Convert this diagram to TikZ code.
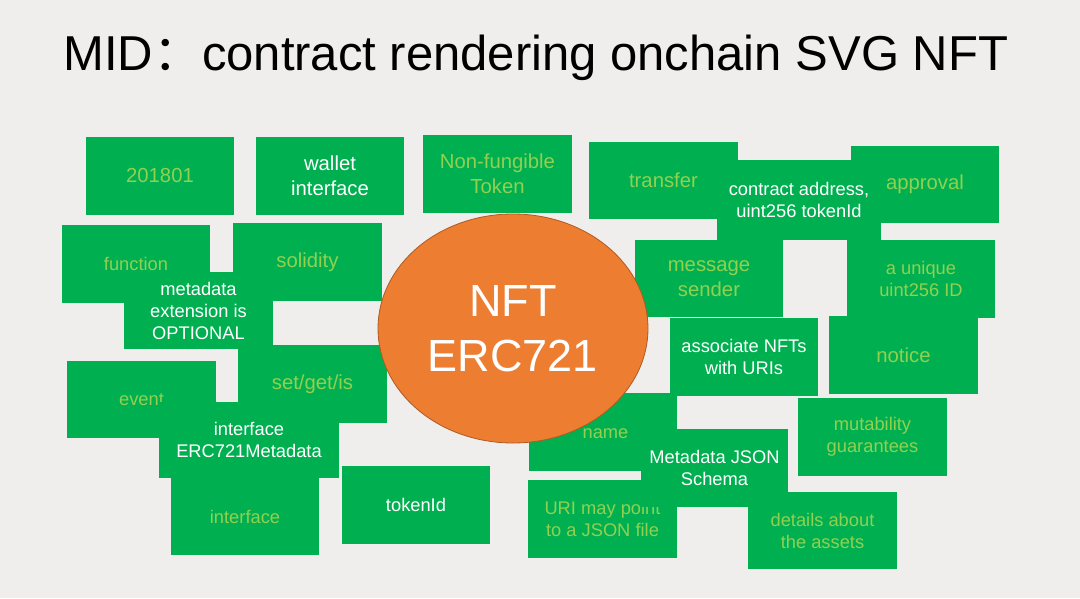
\documentclass[tikz,border=0pt]{standalone}
\usepackage{fontspec}
\setmainfont{Liberation Sans}
\newfontfamily\cjk{Noto Sans CJK SC}
\usetikzlibrary{shapes.geometric}
\definecolor{bg}{HTML}{EFEEEC}
\definecolor{boxgreen}{HTML}{00B050}
\definecolor{lg}{HTML}{92D050}
\definecolor{orng}{HTML}{ED7D31}
\definecolor{orngedge}{HTML}{AE5A21}
\tikzset{
  box/.style={fill=boxgreen, inner sep=0pt, align=center, text=lg, minimum width=148pt, minimum height=78pt},
  wt/.style={text=white},
  bigf/.style={font=\fontsize{20.3}{25}\selectfont},
  smallf/.style={font=\fontsize{18.3}{22}\selectfont},
}
\begin{document}
\begin{tikzpicture}[x=1pt,y=-1pt]
\fill[bg] (0,0) rectangle (1080,598);
\useasboundingbox (0,0) rectangle (1080,598);
\node[anchor=base west, inner sep=0pt, font=\fontsize{49}{55}\selectfont] (title) at (63,70) {MID{\cjk ：}contract rendering onchain SVG NFT};

\node[box, bigf] (b1) at (160,176) {201801};
\node[box, bigf, wt] (b2) at (330,176) {wallet\\interface};
\node[box, bigf, minimum width=149pt] (b3) at (497.5,174) {Non-fungible\\Token};
\node[box, bigf, minimum width=149pt, minimum height=77pt] (b4) at (663.5,180.5) {transfer};
\node[box, bigf, minimum height=77pt] (b5) at (925,184.5) {approval};
\node[box, smallf, wt, minimum width=164pt, minimum height=80pt] (b6) at (799,200) {contract address,\\uint256 tokenId};
\node[box, smallf] (b7) at (136,264) {function};
\node[box, bigf, minimum width=149pt] (b8) at (307.5,262) {solidity};
\node[box, smallf, wt, minimum width=149pt, minimum height=77pt] (b9) at (198.5,310.5) {metadata\\extension is\\OPTIONAL};
\node[box, bigf, minimum height=77pt] (b10) at (709,278.5) {message\\sender};
\node[box, smallf] (b11) at (921,279) {a unique\\uint256 ID};
\node[box, bigf, minimum width=149pt] (b12) at (312.5,384) {set/get/is};
\node[box, smallf, minimum width=149pt, minimum height=77pt] (b13) at (141.5,399.5) {event};
\node[box, smallf, wt, minimum width=180pt, minimum height=76pt] (b14) at (249,440) {interface\\ERC721Metadata};
\node[box, smallf, minimum height=77pt] (b15) at (245,516.5) {interface};
\node[box, smallf, wt] (b16) at (416,505) {tokenId};
\node[box, smallf, wt] (b17) at (744,357) {associate NFTs\\with URIs};
\node[box, bigf, minimum width=149pt] (b18) at (903.5,355) {notice};
\node[box, smallf, minimum width=149pt] (b19) at (872.5,437) {mutability\\guarantees};
\node[box, smallf, text height=12pt, text depth=0pt] (b20) at (603,432) {\hspace*{5pt}name};
\node[box, smallf, minimum width=149pt] (b21) at (602.5,519) {URI may point\\to a JSON file};
\node[box, smallf, wt, minimum width=147pt] (b22) at (714.5,468) {Metadata JSON\\Schema};
\node[box, smallf, minimum width=149pt, minimum height=77pt] (b23) at (822.5,530.5) {details about\\the assets};

\node[ellipse, fill=orng, draw=orngedge, line width=0.8pt, minimum width=270pt, minimum height=229pt, inner sep=0pt, text=white, align=center, font=\fontsize{45}{55}\selectfont] (nft) at (513,328.5) {NFT\\ERC721};
\end{tikzpicture}
\end{document}
